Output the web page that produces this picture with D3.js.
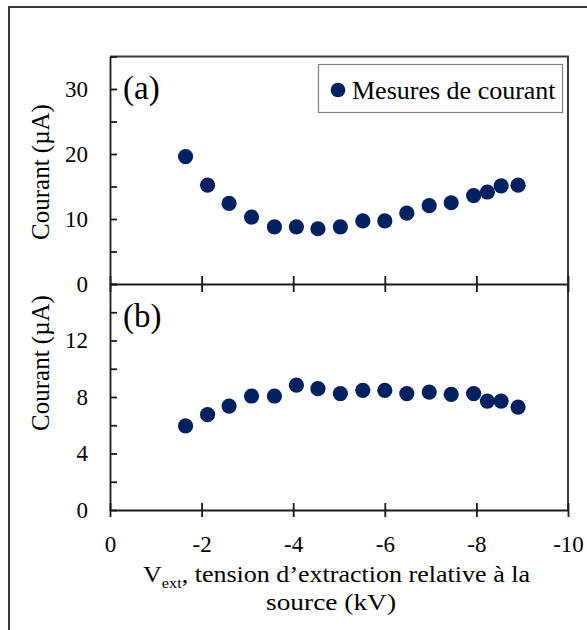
<!DOCTYPE html>
<html><head><meta charset="utf-8">
<script src="https://cdn.jsdelivr.net/npm/d3@7"></script>
<style>
body{margin:0;background:#fff}
svg{display:block}
svg text{font-family:'Liberation Serif','Tinos','Times New Roman','DejaVu Serif','Noto Serif',serif;fill:#000}
</style>
</head><body>
<svg id="c" width="587" height="630"></svg>
<script>
// Data
const voltage = [-1.65,-2.13,-2.60,-3.09,-3.59,-4.07,-4.54,-5.03,-5.52,-6.00,-6.48,-6.97,-7.45,-7.94,-8.24,-8.54,-8.91];
const currentA = [19.6,15.2,12.4,10.3,8.8,8.8,8.5,8.8,9.7,9.7,10.9,12.05,12.5,13.6,14.15,15.1,15.2];
const currentB = [5.95,6.75,7.36,8.07,8.07,8.84,8.59,8.24,8.47,8.47,8.24,8.35,8.19,8.24,7.71,7.71,7.29];
const xTicks = [0,-2,-4,-6,-8,-10];
const yTicksA = [0,5,10,15,20,25,30,35];
const yTicksB = [0,2,4,6,8,10,12,14,16];
const legendLabel = "Mesures de courant";
const yTitle = "Courant (µA)";

const FONT = "'Liberation Serif','Tinos','Times New Roman','DejaVu Serif','Noto Serif',serif";
const color = "#002060";
const svg = d3.select("#c");

// outer frame
svg.append("rect").attr("x",9).attr("y",7).attr("width",620).attr("height",660)
  .attr("fill","none").attr("stroke","#3a3a3a").attr("stroke-width",2);

const x = d3.scaleLinear().domain([0,-10]).range([110,568]);
const yA = d3.scaleLinear().domain([0,35]).range([284,56.5]);
const yB = d3.scaleLinear().domain([0,16]).range([510,284]);

// plot box top & right
svg.append("path").attr("d",`M${x(0)},${yA(35)}H${x(-10)}V${yB(0)}`)
  .attr("fill","none").attr("stroke","#3a3a3a").attr("stroke-width",2);

function styleAxis(g){
  g.attr("font-family",FONT);
  g.selectAll("path.domain").attr("stroke","#1a1a1a").attr("stroke-width",1.8);
  g.selectAll(".tick line").attr("stroke","#1a1a1a").attr("stroke-width",1.8);
  g.selectAll("text").attr("font-family",FONT).attr("fill","#000");
}

// x axes
const gxA = svg.append("g").attr("transform",`translate(0,${yA(0)})`)
  .call(d3.axisBottom(x).tickValues(xTicks).tickSizeInner(8).tickSizeOuter(0).tickFormat(""));
gxA.selectAll(".tick line").attr("y1",-8).attr("y2",8);
styleAxis(gxA);

const gxB = svg.append("g").attr("transform",`translate(0,${yB(0)})`)
  .call(d3.axisBottom(x).tickValues(xTicks).tickSizeInner(7).tickSizeOuter(0).tickPadding(19).tickFormat(d=>String(d)));
gxB.selectAll(".tick line").attr("y1",-7).attr("y2",7);
gxB.selectAll("text").attr("font-size",23);
styleAxis(gxB);

// y axes
const gyA = svg.append("g").attr("transform",`translate(${x(0)},0)`)
  .call(d3.axisLeft(yA).tickValues(yTicksA).tickSizeInner(-7).tickSizeOuter(0).tickPadding(22).tickFormat(d=>d%10===0?String(d):""));
gyA.selectAll("text").attr("font-size",23);
styleAxis(gyA);

const gyB = svg.append("g").attr("transform",`translate(${x(0)},0)`)
  .call(d3.axisLeft(yB).tickValues(yTicksB).tickSizeInner(-7).tickSizeOuter(0).tickPadding(22).tickFormat(d=>(d%4===0&&d<16)?String(d):""));
gyB.selectAll("text").attr("font-size",23);
styleAxis(gyB);

// points
svg.append("g").selectAll("circle").data(voltage).join("circle")
  .attr("cx",d=>x(d)).attr("cy",(d,i)=>yA(currentA[i])).attr("r",7.6).attr("fill",color);
svg.append("g").selectAll("circle").data(voltage).join("circle")
  .attr("cx",d=>x(d)).attr("cy",(d,i)=>yB(currentB[i])).attr("r",7.6).attr("fill",color);

function txt(){ return svg.append("text").attr("font-family",FONT).attr("fill","#000"); }

// panel labels
txt().attr("x",123).attr("y",99).attr("font-size",33).text("(a)");
txt().attr("x",123).attr("y",327).attr("font-size",33).text("(b)");

// legend
svg.append("rect").attr("x",318.5).attr("y",64.5).attr("width",244).attr("height",48)
  .attr("fill","#fff").attr("stroke","#808080").attr("stroke-width",1.2);
svg.append("circle").attr("cx",338).attr("cy",90).attr("r",7.3).attr("fill",color);
txt().attr("x",352).attr("y",99).attr("font-size",26).text(legendLabel);

// y titles
txt().attr("transform","translate(49,172) rotate(-90)").attr("text-anchor","middle")
  .attr("font-size",25).text(yTitle);
txt().attr("transform","translate(49,363) rotate(-90)").attr("text-anchor","middle")
  .attr("font-size",25).text(yTitle);

// x title (two lines)
const t1 = txt().attr("x",143).attr("y",582).attr("font-size",24)
  .attr("textLength",387).attr("lengthAdjust","spacingAndGlyphs");
t1.append("tspan").text("V");
t1.append("tspan").attr("font-size",15).attr("dy",6).text("ext");
t1.append("tspan").attr("dy",-6).text(", tension d\u2019extraction relative \u00e0 la");
txt().attr("x",266).attr("y",610).attr("font-size",24)
  .attr("textLength",130).attr("lengthAdjust","spacingAndGlyphs").text("source (kV)");
</script>
</body></html>
